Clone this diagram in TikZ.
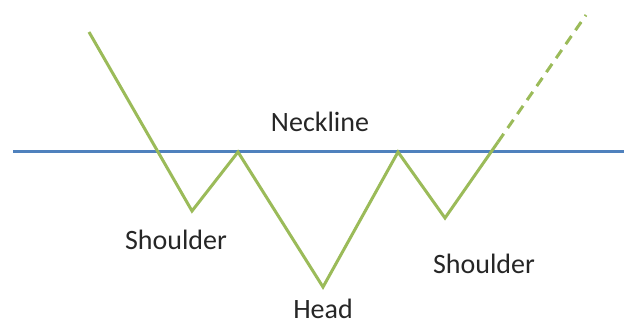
\documentclass[tikz,border=0pt]{standalone}
\usepackage{fontspec}
\setmainfont{Carlito}
\usetikzlibrary{positioning}
\definecolor{trendgreen}{HTML}{9BBB59}
\definecolor{neckblue}{HTML}{4F81BD}
\begin{document}
\begin{tikzpicture}[x=1pt, y=-1pt,
  trend/.style={draw=trendgreen, line width=3pt, line join=miter},
  neck/.style={draw=neckblue, line width=3pt},
  tag/.style={font=\fontsize{28}{32}\selectfont, text=black!85, inner sep=0pt}]
\useasboundingbox (0,0) rectangle (624,327);
% neckline
\coordinate (NL) at (13,151);
\coordinate (NR) at (624,151);
\draw[neck] (NL) -- (NR);
% price path
\coordinate (P0) at (89,32);
\coordinate (LS) at (192,211);
\coordinate (P1) at (238,152);
\coordinate (HD) at (323,287);
\coordinate (P2) at (398,152);
\coordinate (RS) at (445,218);
\coordinate (BR) at (498,142);
\coordinate (TG) at (586,15);
\draw[trend] (P0) -- (LS) -- (P1) -- (HD) -- (P2) -- (RS) -- (BR);
\draw[trend, dash pattern=on 10pt off 7pt] (BR) -- (TG);
% labels
\node[tag] (Neck) at (320,122) {Neckline};
\node[tag] (ShL) at (176,240) {Shoulder};
\node[tag] (Head) at (323,309) {Head};
\node[tag] (ShR) at (484,264) {Shoulder};
\end{tikzpicture}
\end{document}
